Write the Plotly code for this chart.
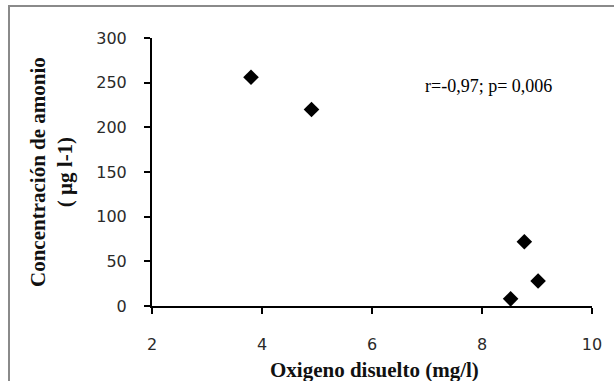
import plotly.graph_objects as go

oxigeno = [3.8, 4.9, 8.52, 8.77, 9.02]
amonio = [256, 220, 8, 72, 28]
x_ticks = [2, 4, 6, 8, 10]
y_ticks = [0, 50, 100, 150, 200, 250, 300]
stat_text = "r=-0,97; p= 0,006"

fig = go.Figure()
fig.add_trace(go.Scatter(
    x=oxigeno, y=amonio, mode="markers",
    marker=dict(symbol="diamond", size=12, color="black", line=dict(width=0)),
    showlegend=False, cliponaxis=False,
))

W, H = 614, 381
L, R, T, B = 152, 18, 38, 75

tickfont = dict(family="DejaVu Sans", size=16, color="#2a2a2a")
fig.update_layout(
    width=W, height=H,
    margin=dict(l=L, r=R, t=T, b=B),
    paper_bgcolor="white", plot_bgcolor="white",
    xaxis=dict(range=[2, 10], tickvals=x_ticks, showgrid=False, zeroline=False,
               showline=True, linecolor="black", linewidth=2,
               ticks="outside", ticklen=6, tickwidth=2, tickcolor="black",
               tickfont=tickfont, ticklabelstandoff=17),
    yaxis=dict(range=[0, 300], tickvals=y_ticks, showgrid=False, zeroline=False,
               showline=True, linecolor="black", linewidth=2,
               ticks="outside", ticklen=6, tickwidth=2, tickcolor="black",
               tickfont=tickfont, ticklabelstandoff=14),
)

titlefont = dict(family="Liberation Serif", size=21, color="#111")
fig.add_annotation(text="<b>Oxigeno disuelto (mg/l)</b>", xref="paper", yref="paper",
                   x=0.5, y=0, yshift=-(370 - (H - B)), xshift=2,
                   xanchor="center", yanchor="middle", showarrow=False, font=titlefont)
fig.add_annotation(text="<b>Concentración de amonio<br>( µg l-1)</b>", xref="paper", yref="paper",
                   x=0, y=0.5, xshift=-(L - 51), textangle=-90,
                   xanchor="center", yanchor="middle", showarrow=False, font=titlefont)
fig.add_annotation(text=stat_text, xref="x", yref="y", x=8.11, y=246,
                   showarrow=False, xanchor="center", yanchor="middle",
                   font=dict(family="Liberation Serif", size=18, color="black"))

# outer frame (only left and top edges fall within the canvas)
fig.add_shape(type="rect", xref="paper", yref="paper",
              xsizemode="pixel", ysizemode="pixel", xanchor=0, yanchor=1,
              x0=9 - L, x1=W - L + 20, y0=-(H - T) - 20, y1=T - 6,
              line=dict(color="#8a8a8a", width=2), fillcolor="rgba(0,0,0,0)")

fig.write_html("out.html")
